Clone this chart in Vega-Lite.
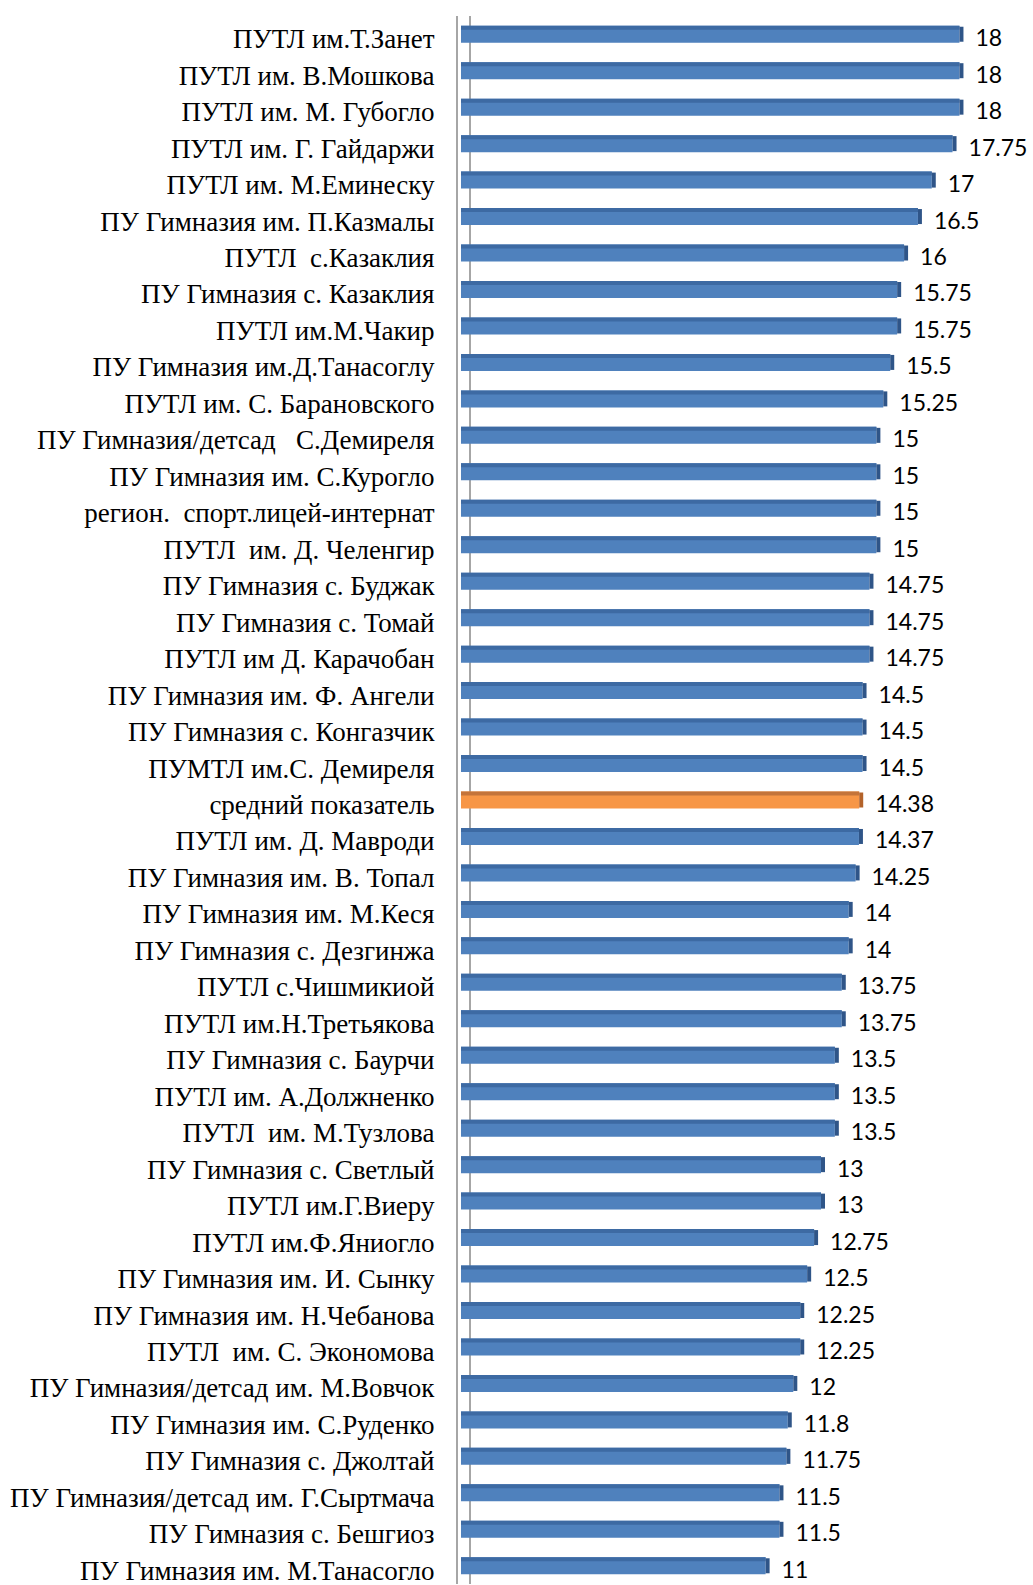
{
  "$schema": "https://vega.github.io/schema/vega-lite/v6.json",
  "autosize": {"type": "none"},
  "padding": {"left": 461, "top": 16, "right": 32, "bottom": 1},
  "width": 540,
  "height": 1568,
  "background": "white",
  "config": {"view": {"stroke": null}},
  "data": {"values": [
    {"name": "ПУТЛ им.Т.Занет", "value": 18, "kind": "school"},
    {"name": "ПУТЛ им. В.Мошкова", "value": 18, "kind": "school"},
    {"name": "ПУТЛ им. М. Губогло", "value": 18, "kind": "school"},
    {"name": "ПУТЛ им. Г. Гайдаржи", "value": 17.75, "kind": "school"},
    {"name": "ПУТЛ им. М.Еминеску", "value": 17, "kind": "school"},
    {"name": "ПУ Гимназия им. П.Казмалы", "value": 16.5, "kind": "school"},
    {"name": "ПУТЛ \u00a0с.Казаклия", "value": 16, "kind": "school"},
    {"name": "ПУ Гимназия с. Казаклия", "value": 15.75, "kind": "school"},
    {"name": "ПУТЛ им.М.Чакир", "value": 15.75, "kind": "school"},
    {"name": "ПУ Гимназия им.Д.Танасоглу", "value": 15.5, "kind": "school"},
    {"name": "ПУТЛ им. С. Барановского", "value": 15.25, "kind": "school"},
    {"name": "ПУ Гимназия/детсад \u00a0\u00a0С.Демиреля", "value": 15, "kind": "school"},
    {"name": "ПУ Гимназия им. С.Курогло", "value": 15, "kind": "school"},
    {"name": "регион. \u00a0спорт.лицей-интернат", "value": 15, "kind": "school"},
    {"name": "ПУТЛ \u00a0им. Д. Челенгир", "value": 15, "kind": "school"},
    {"name": "ПУ Гимназия с. Буджак", "value": 14.75, "kind": "school"},
    {"name": "ПУ Гимназия с. Томай", "value": 14.75, "kind": "school"},
    {"name": "ПУТЛ им Д. Карачобан", "value": 14.75, "kind": "school"},
    {"name": "ПУ Гимназия им. Ф. Ангели", "value": 14.5, "kind": "school"},
    {"name": "ПУ Гимназия с. Конгазчик", "value": 14.5, "kind": "school"},
    {"name": "ПУМТЛ им.С. Демиреля", "value": 14.5, "kind": "school"},
    {"name": "средний показатель", "value": 14.38, "kind": "average"},
    {"name": "ПУТЛ им. Д. Мавроди", "value": 14.37, "kind": "school"},
    {"name": "ПУ Гимназия им. В. Топал", "value": 14.25, "kind": "school"},
    {"name": "ПУ Гимназия им. М.Кеся", "value": 14, "kind": "school"},
    {"name": "ПУ Гимназия с. Дезгинжа", "value": 14, "kind": "school"},
    {"name": "ПУТЛ с.Чишмикиой", "value": 13.75, "kind": "school"},
    {"name": "ПУТЛ им.Н.Третьякова", "value": 13.75, "kind": "school"},
    {"name": "ПУ Гимназия с. Баурчи", "value": 13.5, "kind": "school"},
    {"name": "ПУТЛ им. А.Должненко", "value": 13.5, "kind": "school"},
    {"name": "ПУТЛ \u00a0им. М.Тузлова", "value": 13.5, "kind": "school"},
    {"name": "ПУ Гимназия с. Светлый", "value": 13, "kind": "school"},
    {"name": "ПУТЛ им.Г.Виеру", "value": 13, "kind": "school"},
    {"name": "ПУТЛ им.Ф.Яниогло", "value": 12.75, "kind": "school"},
    {"name": "ПУ Гимназия им. И. Сынку", "value": 12.5, "kind": "school"},
    {"name": "ПУ Гимназия им. Н.Чебанова", "value": 12.25, "kind": "school"},
    {"name": "ПУТЛ \u00a0им. С. Экономова", "value": 12.25, "kind": "school"},
    {"name": "ПУ Гимназия/детсад им. М.Вовчок", "value": 12, "kind": "school"},
    {"name": "ПУ Гимназия им. С.Руденко", "value": 11.8, "kind": "school"},
    {"name": "ПУ Гимназия с. Джолтай", "value": 11.75, "kind": "school"},
    {"name": "ПУ Гимназия/детсад им. Г.Сыртмача", "value": 11.5, "kind": "school"},
    {"name": "ПУ Гимназия с. Бешгиоз", "value": 11.5, "kind": "school"},
    {"name": "ПУ Гимназия им. М.Танасогло", "value": 11, "kind": "school"}
  ]},
  "encoding": {
    "y": {
      "field": "name", "type": "nominal", "sort": null, "title": null,
      "scale": {"paddingInner": 0.5, "paddingOuter": 0.25},
      "axis": {
        "domain": false, "ticks": false, "labelPadding": 27, "labelLimit": 0,
        "labelFont": "Liberation Serif", "labelFontSize": 27, "labelColor": "#000000",
        "labelOffset": 6
      }
    },
    "x": {
      "field": "value", "type": "quantitative", "title": null, "axis": null,
      "scale": {"domain": [0, 19.5], "nice": false, "zero": true}
    }
  },
  "layer": [
    {
      "mark": {"type": "rule", "color": "#A6A6A6", "strokeWidth": 2, "xOffset": -4},
      "encoding": {"x": {"datum": 0}, "y": null}
    },
    {
      "mark": {"type": "rule", "color": "#A6A6A6", "strokeWidth": 1.5, "xOffset": 9},
      "encoding": {"x": {"datum": 0}, "y": null}
    },
    {
      "mark": {"type": "bar", "size": 17},
      "encoding": {
        "color": {"field": "kind", "type": "nominal", "legend": null,
          "scale": {"domain": ["school", "average"], "range": ["#4F81BD", "#F79646"]}}
      }
    },
    {
      "mark": {"type": "bar", "size": 4, "yOffset": -6.5},
      "encoding": {
        "color": {"condition": {"test": "datum.kind == 'average'", "value": "#C4743A"}, "value": "#3D6AA3"}
      }
    },
    {
      "mark": {"type": "tick", "orient": "vertical", "size": 15, "thickness": 4, "xOffset": 2, "opacity": 1},
      "encoding": {
        "color": {"condition": {"test": "datum.kind == 'average'", "value": "#B3622A"}, "value": "#2F5588"}
      }
    },
    {
      "mark": {"type": "text", "align": "left", "baseline": "middle", "dx": 16, "dy": 5,
        "font": "Lato", "fontSize": 23, "color": "#000000"},
      "encoding": {"text": {"field": "value", "type": "quantitative"}}
    }
  ]
}
